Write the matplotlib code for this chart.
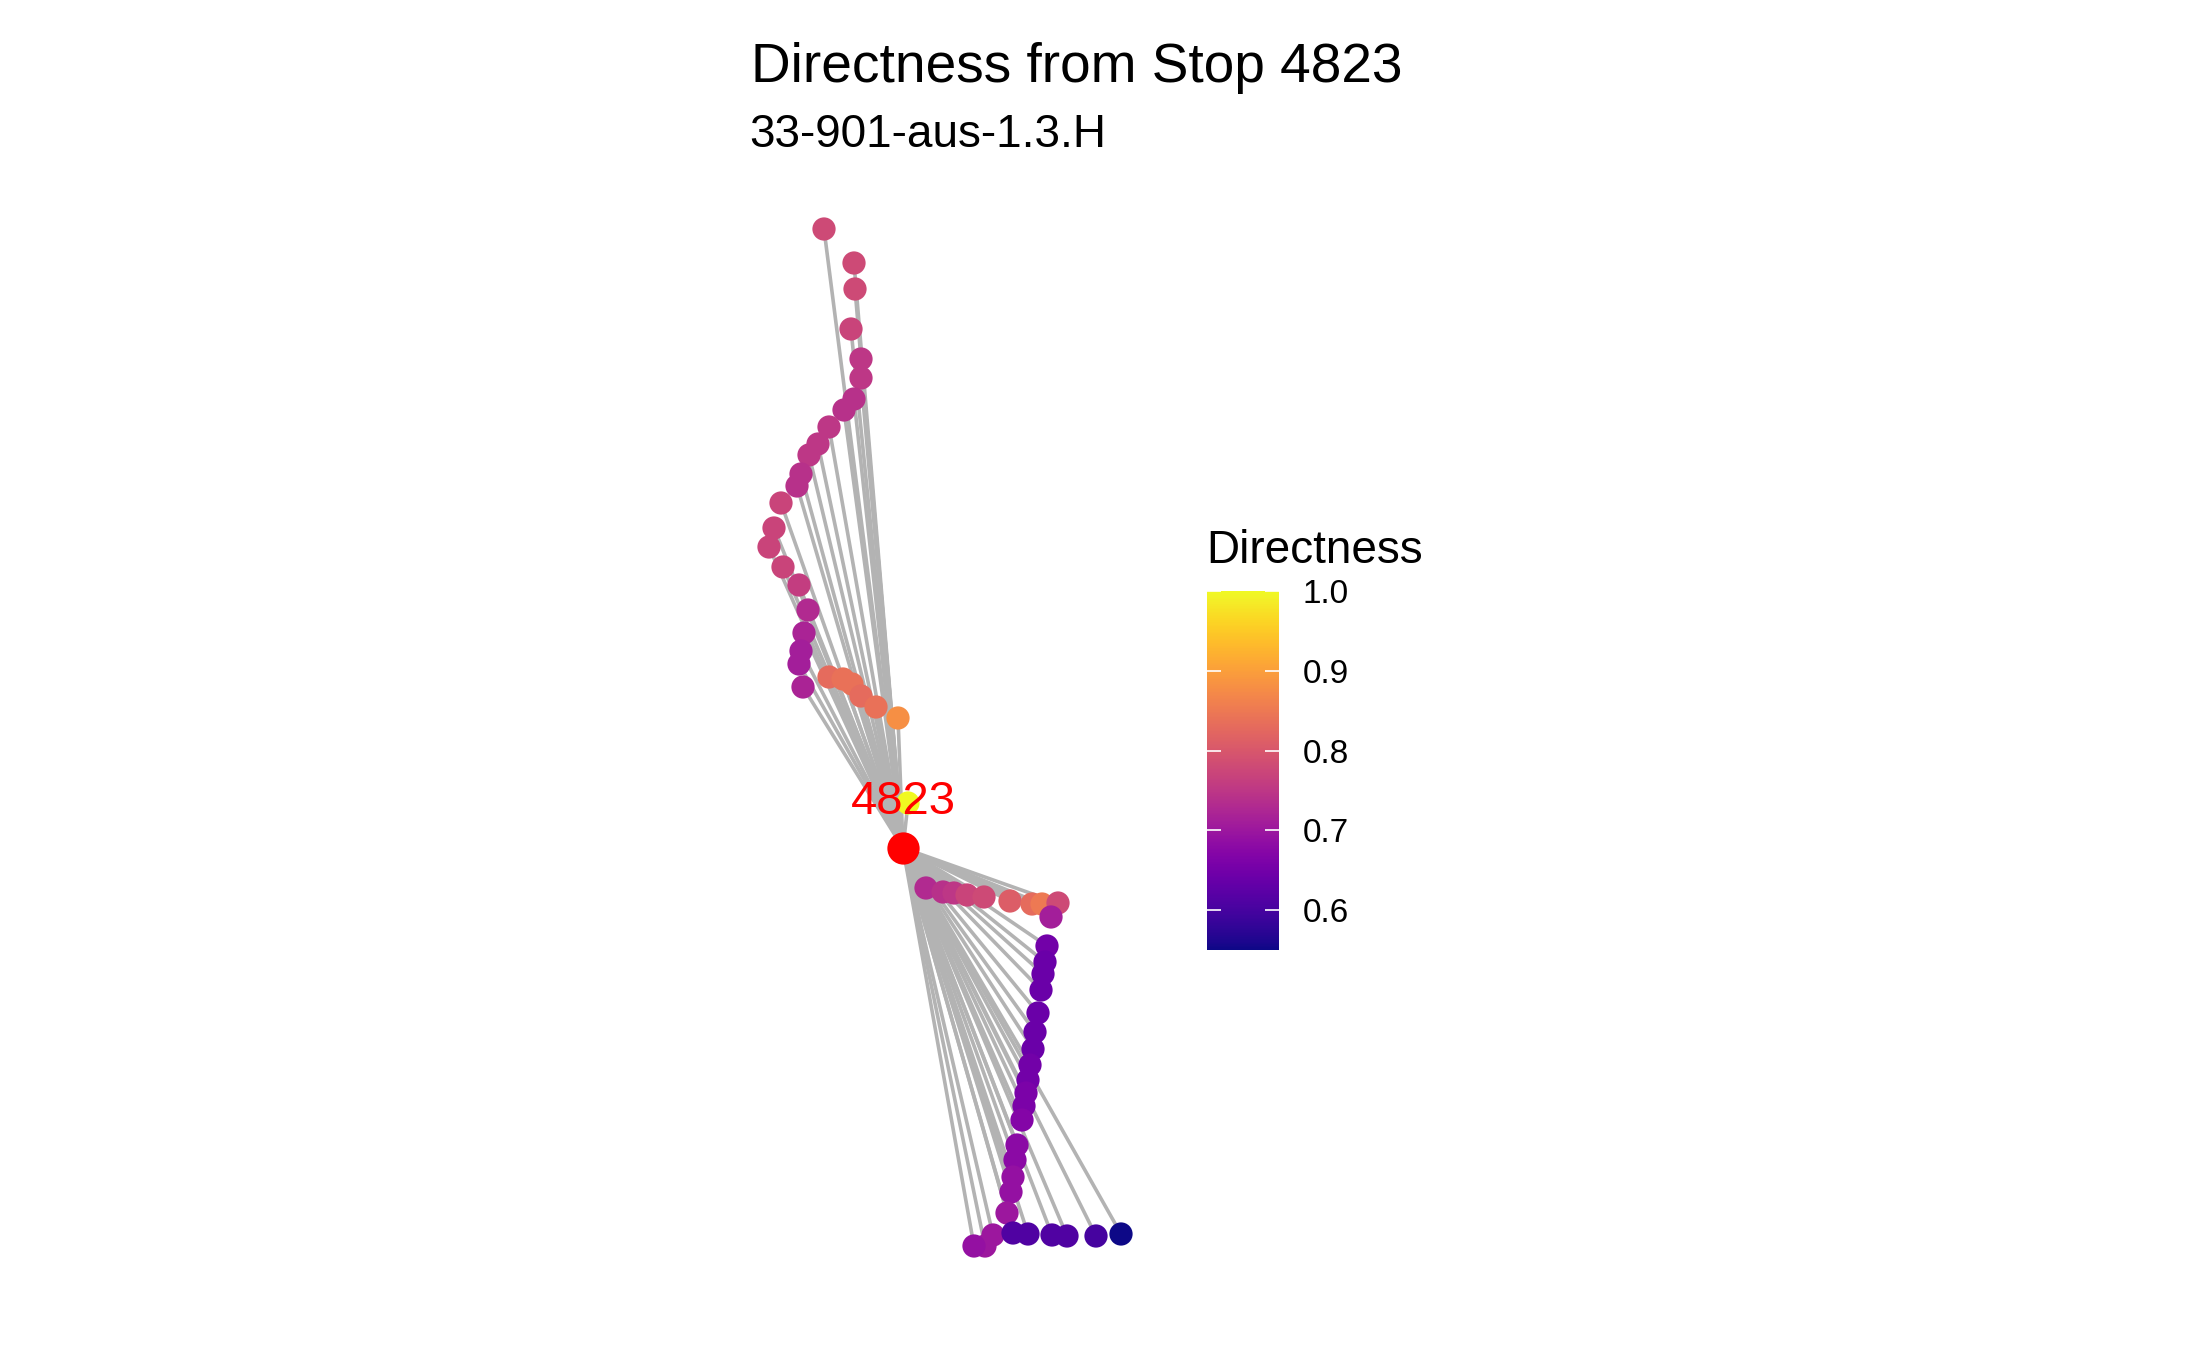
import matplotlib
matplotlib.use("Agg")
import matplotlib.pyplot as plt
from matplotlib.colors import Normalize

plt.rcParams["font.family"] = ["Liberation Sans", "DejaVu Sans"]

# stop location (metres, local grid) and destinations
stop_id = "4823"
stop_x, stop_y = 0, 0

dest_x = [-790, -490, -480, -520, -420, -420, -490, -590, -740, -850, -940,
          -1020, -1060, -1220, -1290, -1340, -1200, -1040, -950, -990, -1020,
          -1040, -1000, -740, -600, -510, -420, -270, -50, 50, 230, 400, 510,
          640, 810, 1070, 1290, 1390, 1550, 1480, 1440, 1420, 1400, 1380, 1350,
          1320, 1300, 1270, 1250, 1230, 1210, 1190, 1140, 1120, 1100, 1080,
          1040, 900, 820, 710, 1100, 1250, 1490, 1640, 1930, 2180]
dest_y = [6190, 5850, 5590, 5190, 4890, 4700, 4490, 4380, 4210, 4040, 3930,
          3740, 3620, 3450, 3200, 3010, 2810, 2630, 2380, 2150, 1970, 1840,
          1610, 1710, 1690, 1640, 1520, 1410, 1300, 450, -400, -440, -450,
          -470, -490, -530, -560, -560, -550, -690, -980, -1140, -1260, -1420,
          -1650, -1840, -2010, -2170, -2320, -2450, -2580, -2720, -2970, -3120,
          -3290, -3440, -3650, -3870, -3980, -3980, -3850, -3860, -3870, -3880,
          -3880, -3860]
directness = [0.78, 0.78, 0.78, 0.77, 0.75, 0.75, 0.74, 0.74, 0.75, 0.75, 0.75,
              0.74, 0.74, 0.77, 0.77, 0.77, 0.77, 0.76, 0.73, 0.72, 0.71, 0.71,
              0.72, 0.83, 0.84, 0.84, 0.83, 0.84, 0.88, 1.0, 0.73, 0.74, 0.75,
              0.77, 0.78, 0.81, 0.83, 0.85, 0.78, 0.71, 0.65, 0.64, 0.64, 0.64,
              0.64, 0.64, 0.64, 0.65, 0.65, 0.66, 0.66, 0.67, 0.68, 0.68, 0.69,
              0.69, 0.70, 0.70, 0.70, 0.69, 0.61, 0.61, 0.61, 0.61, 0.60, 0.55]

fig = plt.figure(figsize=(21.87, 13.5), dpi=100)
ax = fig.add_axes([740 / 2187, 80 / 1350, 420 / 2187, 1070 / 1350])

for x, y in zip(dest_x, dest_y):
    ax.plot([stop_x, x], [stop_y, y], color="#B3B3B3", lw=2.6, zorder=1,
            solid_capstyle="butt")

norm = Normalize(vmin=0.55, vmax=1.0)
sc = ax.scatter(dest_x, dest_y, c=directness, cmap="plasma", norm=norm,
                s=280, linewidths=0, zorder=2)
ax.scatter([stop_x], [stop_y], color="red", s=540, linewidths=0, zorder=3)
ax.annotate(stop_id, (stop_x, stop_y), xytext=(0, 33), textcoords="offset points",
            ha="center", va="center", color="red", fontsize=34, zorder=4)

ax.set_xlim(-1630, 2570)
ax.set_ylim(-4220, 6480)
ax.set_aspect("equal", adjustable="box")
ax.axis("off")

fig.text(751 / 2187, 1 - 81.7 / 1350, "Directness from Stop 4823",
         fontsize=39.6, va="baseline", ha="left")
fig.text(749 / 2187, 1 - 146.7 / 1350, "33-901-aus-1.3.H",
         fontsize=33, va="baseline", ha="left")

cax = fig.add_axes([1207 / 2187, 400 / 1350, 72 / 2187, 359 / 1350])
cb = fig.colorbar(sc, cax=cax, ticks=[0.6, 0.7, 0.8, 0.9, 1.0])
cb.outline.set_visible(False)
cb.ax.set_yticklabels(["0.6", "0.7", "0.8", "0.9", "1.0"])
cb.ax.tick_params(direction="in", length=10, width=1.2, color="white",
                  left=True, right=True, labelleft=False, labelright=True,
                  labelsize=24, pad=17)
fig.text(1206 / 2187, 1 - 562.7 / 1350, "Directness", fontsize=33,
         va="baseline", ha="left")

fig.savefig("out.png", dpi=100)
